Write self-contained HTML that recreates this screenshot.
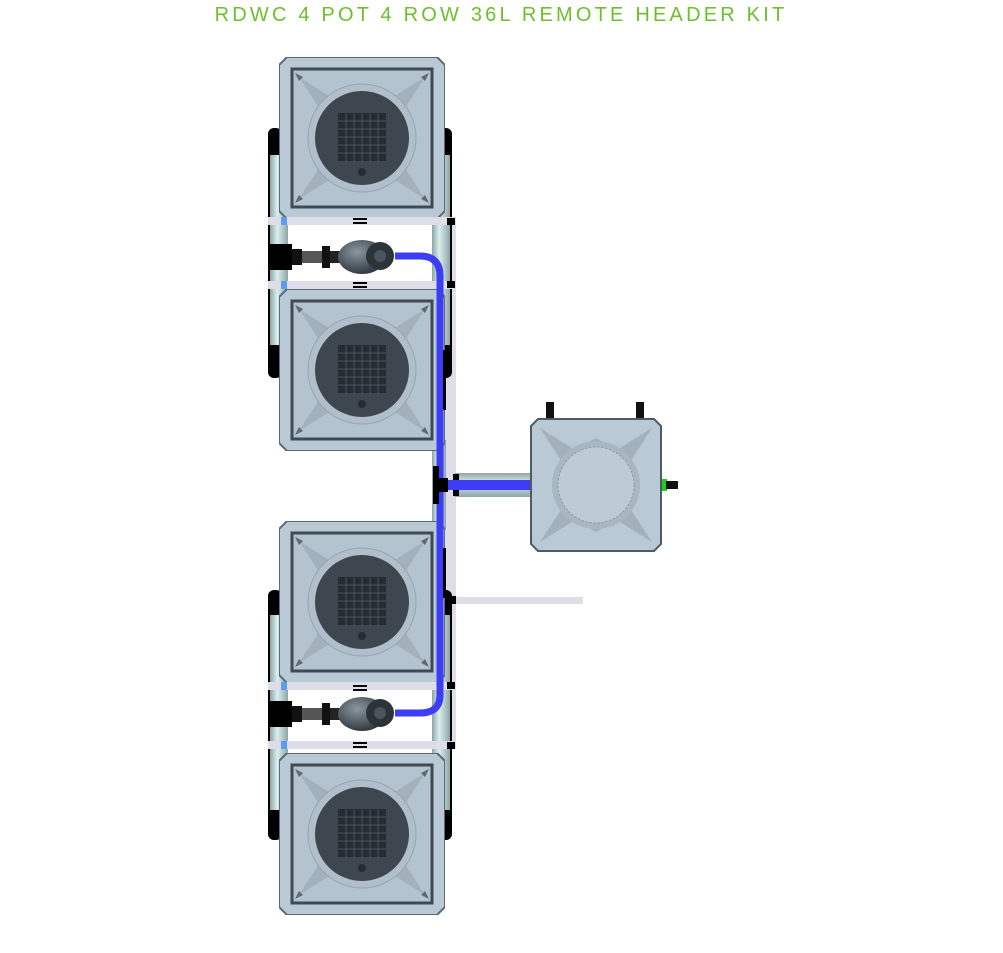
<!DOCTYPE html>
<html><head><meta charset="utf-8"><style>
body{margin:0;background:#fff;width:1003px;height:948px;overflow:hidden}
</style></head><body>
<svg width="1003" height="948" viewBox="0 0 1003 948" xmlns="http://www.w3.org/2000/svg">
<defs>
<linearGradient id="tube" x1="0" x2="1" y1="0" y2="0">
<stop offset="0" stop-color="#8fa3a8"/><stop offset=".4" stop-color="#d9f0ee"/><stop offset="1" stop-color="#90a4a8"/></linearGradient>
<linearGradient id="tubeh" x1="0" x2="0" y1="0" y2="1">
<stop offset="0" stop-color="#8fa3a8"/><stop offset=".4" stop-color="#d9f0ee"/><stop offset="1" stop-color="#90a4a8"/></linearGradient>
<radialGradient id="pump" cx=".4" cy=".35" r=".7"><stop offset="0" stop-color="#8a96a0"/><stop offset="1" stop-color="#2c333a"/></radialGradient>
<symbol id="pot" viewBox="0 0 166 162">
<path d="M8 0H158L166 8V154L158 162H8L0 154V8Z" fill="#b9c9d5" stroke="#5d6a73" stroke-width="2"/>
<rect x="13" y="12" width="140" height="138" fill="#b3c3cf" stroke="#3f4a52" stroke-width="3"/>
<path d="M20 20L60 45L83 30L106 45L146 20L120 60L135 81L120 102L146 142L106 117L83 132L60 117L20 142L46 102L31 81L46 60Z" fill="#a2b1bc"/>
<circle cx="83" cy="81" r="54" fill="#b0bfca" stroke="#96a4ae"/>
<circle cx="83" cy="81" r="47" fill="#3e474f"/>
<rect x="59" y="56" width="48" height="48" fill="#262c31"/>
<path d="M59 64H107M59 72H107M59 80H107M59 88H107M59 96H107M67 56V104M75 56V104M83 56V104M91 56V104M99 56V104" stroke="#4b555d" stroke-width="1"/>
<circle cx="83" cy="115" r="4" fill="#262c31"/>
<path d="M16 16l8 4-4 4zM150 16l-8 4 4 4zM16 146l8-4-4-4zM150 146l-8-4 4-4z" fill="#5d6a73"/>
</symbol>
<symbol id="pumpg" viewBox="0 0 130 40">
<rect x="0" y="8" width="22" height="26" fill="#000"/>
<rect x="22" y="13" width="10" height="16" fill="#111"/>
<rect x="32" y="15" width="20" height="12" fill="#555"/>
<rect x="52" y="10" width="8" height="22" fill="#111"/>
<rect x="60" y="15" width="10" height="12" fill="#222"/>
<ellipse cx="92" cy="21" rx="24" ry="17" fill="url(#pump)"/>
<circle cx="110" cy="20" r="14" fill="#2d3439"/>
<circle cx="110" cy="20" r="6" fill="#4a545c"/>
</symbol>
</defs>

<text x="501" y="21" text-anchor="middle" font-family="Liberation Sans, sans-serif" font-size="20" fill="#6dbf2b" letter-spacing="3.2">RDWC 4 POT 4 ROW 36L REMOTE HEADER KIT</text>

<rect x="444" y="222" width="12" height="524" fill="#dedde8"/>

<g>
<rect x="268" y="128" width="14" height="250" rx="6" fill="#000"/>
<rect x="270" y="155" width="18" height="190" fill="url(#tube)"/>
<rect x="438" y="128" width="14" height="250" rx="6" fill="#000"/>
<rect x="432" y="155" width="18" height="190" fill="url(#tube)"/>
<rect x="268" y="590" width="14" height="250" rx="6" fill="#000"/>
<rect x="270" y="615" width="18" height="195" fill="url(#tube)"/>
<rect x="438" y="590" width="14" height="250" rx="6" fill="#000"/>
<rect x="432" y="615" width="18" height="195" fill="url(#tube)"/>
<rect x="432" y="440" width="14" height="90" fill="url(#tube)"/>
</g>

<use href="#pot" x="279" y="57" width="166" height="162"/>
<use href="#pot" x="279" y="289" width="166" height="162"/>
<use href="#pot" x="279" y="521" width="166" height="162"/>
<use href="#pot" x="279" y="753" width="166" height="162"/>

<g fill="#dedde8">
<rect x="268" y="217" width="188" height="8"/><rect x="268" y="281" width="188" height="8"/>
<rect x="268" y="682" width="188" height="8"/><rect x="268" y="741" width="188" height="8"/>
<rect x="452" y="597" width="131" height="7"/>
</g>
<g fill="#000">
<rect x="447" y="218" width="8" height="7"/><rect x="447" y="281" width="8" height="7"/>
<rect x="447" y="682" width="8" height="7"/><rect x="447" y="742" width="8" height="7"/>
<rect x="449" y="596" width="7" height="8"/>
<rect x="353" y="218" width="14" height="2"/><rect x="353" y="222" width="14" height="2"/>
<rect x="353" y="282" width="14" height="2"/><rect x="353" y="286" width="14" height="2"/>
<rect x="353" y="685" width="14" height="2"/><rect x="353" y="689" width="14" height="2"/>
<rect x="353" y="742" width="14" height="2"/><rect x="353" y="746" width="14" height="2"/>
</g>
<g fill="#5b9bf0"><rect x="281" y="217" width="6" height="8"/><rect x="281" y="281" width="6" height="8"/><rect x="281" y="682" width="6" height="8"/><rect x="281" y="741" width="6" height="8"/></g>

<path d="M395 256H420Q440 256 440 276V695Q440 713 420 713H395" fill="none" stroke="#3d3df5" stroke-width="7"/>
<rect x="455" y="473" width="76" height="24" fill="url(#tubeh)"/>
<rect x="440" y="480" width="91" height="10" fill="#3d3df5"/>
<rect x="433" y="466" width="6" height="38" fill="#000"/>
<rect x="436" y="478" width="12" height="14" fill="#000"/>
<rect x="453" y="474" width="6" height="6" fill="#000"/><rect x="453" y="490" width="6" height="6" fill="#000"/>
<rect x="443" y="350" width="3" height="60" fill="#000"/>
<rect x="443" y="548" width="3" height="50" fill="#000"/>

<use href="#pumpg" x="270" y="236" width="130" height="40"/>
<use href="#pumpg" x="270" y="693" width="130" height="40"/>

<rect x="546" y="402" width="8" height="18" fill="#111"/><rect x="636" y="402" width="8" height="18" fill="#111"/>
<rect x="661" y="479" width="6" height="12" fill="#2c2"/><rect x="666" y="481" width="12" height="8" fill="#111"/>
<path d="M538 419H654L661 426V544L654 551H538L531 544V426Z" fill="#b9c9d5" stroke="#4f5b63" stroke-width="2"/>
<path d="M540 428L575 450L596 438L617 450L652 428L628 465L640 485L628 505L652 542L617 520L596 532L575 520L540 542L564 505L552 485L564 465Z" fill="#a2b1bc"/>
<circle cx="596" cy="485" r="44" fill="#a8b7c2"/>
<circle cx="596" cy="485" r="38" fill="#bccbd6" stroke="#8896a0" stroke-dasharray="2 2"/>
</svg>
</body></html>
